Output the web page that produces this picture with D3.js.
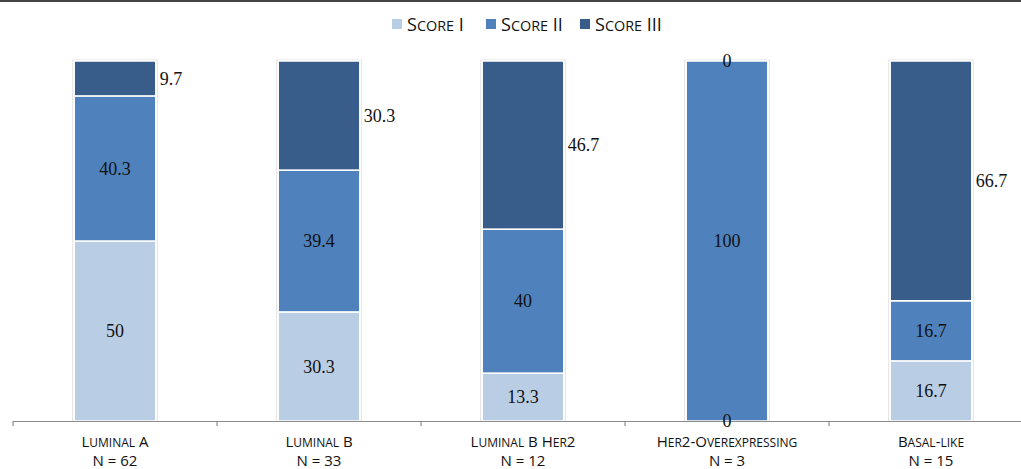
<!DOCTYPE html>
<html>
<head>
<meta charset="utf-8">
<script src="https://cdn.jsdelivr.net/npm/d3@7"></script>
<style>
  html, body { margin: 0; padding: 0; background: #fff; }
  svg { display: block; }
</style>
</head>
<body>
<svg id="chart" width="1021" height="469"></svg>
<script>
const categories = ["Luminal A", "Luminal B", "Luminal B Her2", "Her2-Overexpressing", "Basal-like"];
const nLabels = ["N = 62", "N = 33", "N = 12", "N = 3", "N = 15"];
const seriesNames = ["Score I", "Score II", "Score III"];
const scoreI = [50, 30.3, 13.3, 0, 16.7];
const scoreII = [40.3, 39.4, 40, 100, 16.7];
const scoreIII = [9.7, 30.3, 46.7, 0, 66.7];
const colors = ["#B9CDE5", "#4F81BD", "#385D8A"];

const svg = d3.select("#chart");
const W = 1021, H = 469;
const yTop = 61, yBot = 421;

// manual small caps: lowercase letters become smaller uppercase
function smallCaps(textSel, str, ratio) {
  const parts = [];
  for (const ch of str) {
    const small = ch !== ch.toUpperCase();
    if (parts.length && parts[parts.length - 1].small === small) parts[parts.length - 1].t += ch;
    else parts.push({small, t: ch});
  }
  parts.forEach(p => {
    textSel.append("tspan").attr("font-size", p.small ? (ratio * 100) + "%" : null)
      .text(p.small ? p.t.toUpperCase() : p.t);
  });
}

// top border
svg.append("rect").attr("x", 0).attr("y", 0).attr("width", W).attr("height", 2).attr("fill", "#444");

const x = d3.scaleBand().domain(categories).range([13, 1033]).paddingInner(0.6).paddingOuter(0.3);
const y = d3.scaleLinear().domain([0, 100]).range([yBot, yTop]);

const table = categories.map((c, i) => ({cat: c, "Score I": scoreI[i], "Score II": scoreII[i], "Score III": scoreIII[i]}));
const stacked = d3.stack().keys(seriesNames)(table);

// bar shadows
svg.append("g").selectAll("rect").data(categories).join("rect")
  .attr("x", d => x(d) - 1.5).attr("y", yTop - 1)
  .attr("width", x.bandwidth() + 3).attr("height", yBot - yTop + 1)
  .attr("fill", "none").attr("stroke", "#e2e2e2").attr("stroke-width", 1);

const layers = svg.append("g").selectAll("g").data(stacked).join("g")
  .attr("fill", (d, i) => colors[i]);
layers.selectAll("rect").data(d => d).join("rect")
  .attr("x", d => x(d.data.cat))
  .attr("y", d => y(Math.min(100, d[1])))
  .attr("width", x.bandwidth())
  .attr("height", d => Math.max(0, y(d[0]) - y(Math.min(100, d[1]))))
  .attr("stroke", "#fff").attr("stroke-width", 1.5);

// axis
const axisG = svg.append("g");
axisG.append("line").attr("x1", 13).attr("x2", 1033).attr("y1", yBot + 0.5).attr("y2", yBot + 0.5)
  .attr("stroke", "#8c8c8c").attr("stroke-width", 1.2);
const tickPos = categories.map(c => x(c) - x.step() * x.paddingOuter());
axisG.selectAll("line.tick").data(tickPos).join("line").attr("class", "tick")
  .attr("x1", d => d).attr("x2", d => d).attr("y1", yBot).attr("y2", yBot + 5)
  .attr("stroke", "#8c8c8c").attr("stroke-width", 1.2);

// category labels
const catG = svg.append("g").attr("font-family", "'Open Sans', sans-serif").attr("font-size", 15)
  .attr("fill", "#111").attr("text-anchor", "middle");
categories.forEach((c, i) => {
  const cx = x(c) + x.bandwidth() / 2;
  const t = catG.append("text").attr("x", cx).attr("y", 447);
  smallCaps(t, c, 0.8);
  catG.append("text").attr("x", cx).attr("y", 465.5).text(nLabels[i]);
});

// data labels
const lblG = svg.append("g").attr("font-family", "'Liberation Serif', 'Times New Roman', serif")
  .attr("font-size", 18).attr("fill", "#111");
stacked.forEach((layer, si) => {
  layer.forEach(d => {
    const v = d.data[seriesNames[si]];
    const cx = x(d.data.cat) + x.bandwidth() / 2;
    const my = (y(d[0]) + y(Math.min(100, d[1]))) / 2;
    if (si === 2 && v > 0) {
      lblG.append("text").attr("x", x(d.data.cat) + x.bandwidth() + 4).attr("y", my)
        .attr("dy", "0.35em").attr("text-anchor", "start").text(v);
    } else {
      lblG.append("text").attr("x", cx).attr("y", my)
        .attr("dy", "0.35em").attr("text-anchor", "middle").text(v);
    }
  });
});

// legend
const legendX = [392, 486, 580];
const lg = svg.append("g").attr("font-family", "'Open Sans', sans-serif").attr("font-size", 18).attr("fill", "#111");
seriesNames.forEach((s, i) => {
  lg.append("rect").attr("x", legendX[i]).attr("y", 19).attr("width", 10).attr("height", 10).attr("fill", colors[i]);
  const t = lg.append("text").attr("x", legendX[i] + 15).attr("y", 30.5);
  smallCaps(t, s, 0.8);
});
</script>
</body>
</html>
